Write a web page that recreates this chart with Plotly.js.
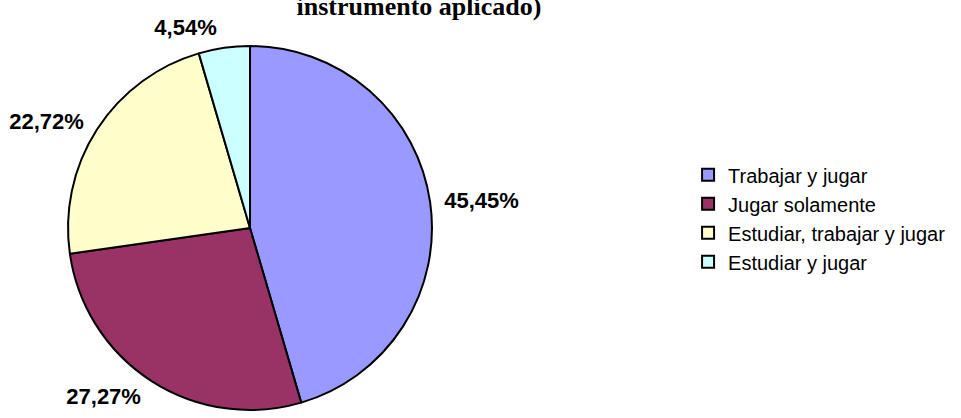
<!DOCTYPE html>
<html>
<head>
<meta charset="utf-8">
<script src="https://cdn.plot.ly/plotly-3.0.1.min.js"></script>
<style>
  html, body { margin: 0; padding: 0; background: #ffffff; }
  #myDiv { width: 961px; height: 418px; }
</style>
</head>
<body>
<div id="myDiv"></div>
<script>
// categories and shares (%)
var labels = ['Trabajar y jugar', 'Jugar solamente', 'Estudiar, trabajar y jugar', 'Estudiar y jugar'];
var values = [45.45, 27.27, 22.72, 4.54];
var colors = ['#9999FF', '#993366', '#FFFFCC', '#CCFFFF'];

// percent labels with decimal comma
var pctText = values.map(function (v) {
  return v.toFixed(2).replace('.', ',') + '%';
});

var labelFont = {family: '"Liberation Sans", Arial, sans-serif', size: 22, color: '#000000', weight: 'bold'};

// the visible pie
var trace1 = {
  type: 'pie',
  labels: labels,
  values: values,
  textinfo: 'none',
  sort: false,
  direction: 'clockwise',
  rotation: 0,
  hoverinfo: 'label+percent',
  marker: {
    colors: colors,
    line: {color: '#000000', width: 2}
  },
  domain: {x: [0.0708, 0.4495], y: [0.0191, 0.8900]}
};

// same slices, a bit larger and transparent, only to carry the outside labels further out
var trace2 = {
  type: 'pie',
  labels: labels,
  values: values,
  text: pctText,
  textinfo: 'text',
  textposition: 'outside',
  sort: false,
  direction: 'clockwise',
  rotation: 0,
  showlegend: false,
  hoverinfo: 'skip',
  marker: {
    colors: ['rgba(0,0,0,0)', 'rgba(0,0,0,0)', 'rgba(0,0,0,0)', 'rgba(0,0,0,0)'],
    line: {width: 0}
  },
  outsidetextfont: labelFont,
  domain: {x: [0.0624, 0.4578], y: [0.0, 0.9091]}
};

var layout = {
  width: 961,
  height: 418,
  margin: {l: 0, r: 0, t: 0, b: 0},
  paper_bgcolor: '#ffffff',
  title: {
    text: '<b>instrumento aplicado)</b>',
    font: {family: '"Liberation Serif", "Times New Roman", serif', size: 26, color: '#000000'},
    x: 0.436,
    xanchor: 'center',
    xref: 'paper',
    y: 0.985,
    yanchor: 'middle',
    yref: 'container'
  },
  showlegend: true,
  legend: {
    x: 0.716,
    xanchor: 'left',
    y: 0.478,
    yanchor: 'middle',
    font: {family: '"Liberation Sans", Arial, sans-serif', size: 20, color: '#000000'},
    bgcolor: 'rgba(0,0,0,0)'
  }
};

Plotly.newPlot('myDiv', [trace1, trace2], layout, {displayModeBar: false, staticPlot: true});
</script>
</body>
</html>
